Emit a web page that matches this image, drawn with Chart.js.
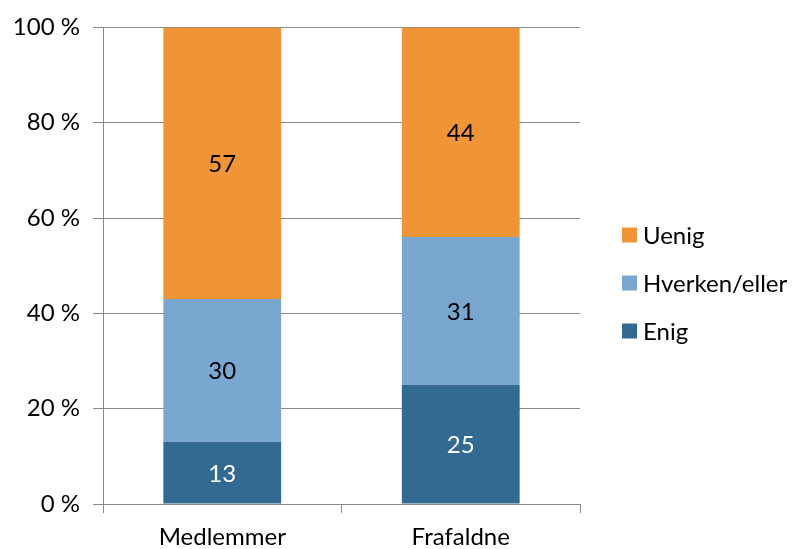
<!DOCTYPE html>
<html><head><meta charset="utf-8">
<script src="https://cdn.jsdelivr.net/npm/chart.js@4/dist/chart.umd.min.js"></script>
<style>html,body{margin:0;padding:0;background:#fff}#c{display:block}</style>
</head><body>
<canvas id="c" width="794" height="549"></canvas>
<script>
const categories = ["Medlemmer", "Frafaldne"];
const enig = [13, 25];
const hverken = [30, 31];
const uenig = [57, 44];
const yTicks = [0, 20, 40, 60, 80, 100];

const FONT = "Lato";
const FS = 24;
const gridColor = "#878787";

const valueLabels = {
  id: "valueLabels",
  afterDatasetsDraw(chart) {
    const ctx = chart.ctx;
    ctx.save();
    ctx.font = FS + "px " + FONT;
    ctx.textAlign = "center";
    ctx.textBaseline = "middle";
    chart.data.datasets.forEach((ds, i) => {
      const meta = chart.getDatasetMeta(i);
      meta.data.forEach((bar, j) => {
        const p = bar.getProps(["x", "y", "base"], true);
        ctx.fillStyle = ds.labelColor;
        ctx.fillText(String(ds.data[j]), p.x, (p.y + p.base) / 2 + 1);
      });
    });
    ctx.restore();
  }
};

// Legend drawn beside the plot (items in reverse dataset order, like the reference)
const sideLegend = {
  id: "sideLegend",
  afterDraw(chart) {
    const ctx = chart.ctx;
    const area = chart.chartArea;
    const items = chart.data.datasets.map(ds => ({ text: ds.label, color: ds.backgroundColor })).reverse();
    const spacing = 48, box = 15;
    const boxX = area.right + 42;
    const midY = 283;
    const startY = midY - spacing * (items.length - 1) / 2;
    ctx.save();
    ctx.font = FS + "px " + FONT;
    ctx.textBaseline = "middle";
    ctx.textAlign = "left";
    items.forEach((it, k) => {
      const cy = startY + k * spacing;
      ctx.fillStyle = it.color;
      ctx.fillRect(boxX, cy - box / 2, box, box);
      ctx.fillStyle = "#000";
      ctx.fillText(it.text, boxX + box + 6, cy + 1);
    });
    ctx.restore();
  }
};

new Chart(document.getElementById("c"), {
  type: "bar",
  data: {
    labels: categories,
    datasets: [
      { label: "Enig", data: enig, backgroundColor: "#336A91", labelColor: "#ffffff" },
      { label: "Hverken/eller", data: hverken, backgroundColor: "#7AA7D0", labelColor: "#000000" },
      { label: "Uenig", data: uenig, backgroundColor: "#EF9537", labelColor: "#000000" }
    ]
  },
  options: {
    responsive: false,
    animation: false,
    layout: { padding: { left: 0, right: 214, top: 27, bottom: 0 } },
    datasets: { bar: { categoryPercentage: 1, barPercentage: 0.494 } },
    scales: {
      x: {
        stacked: true,
        afterFit(axis) { axis.height = 45; },
        grid: { offset: true, drawOnChartArea: false, drawTicks: true, tickLength: 9, color: gridColor },
        border: { color: gridColor, width: 1 },
        ticks: { color: "#000", font: { family: FONT, size: FS }, padding: 10 }
      },
      y: {
        stacked: true,
        min: 0, max: 100,
        afterFit(axis) { axis.width = 103; },
        afterBuildTicks(axis) { axis.ticks = yTicks.map(v => ({ value: v })); },
        grid: { color: gridColor, tickLength: 10, lineWidth: 1 },
        border: { color: gridColor, width: 1 },
        ticks: { color: "#000", font: { family: FONT, size: FS }, padding: 13, callback: v => v + " %" }
      }
    },
    plugins: {
      legend: { display: false },
      tooltip: { enabled: false }
    }
  },
  plugins: [valueLabels, sideLegend]
});
</script>
</body></html>
